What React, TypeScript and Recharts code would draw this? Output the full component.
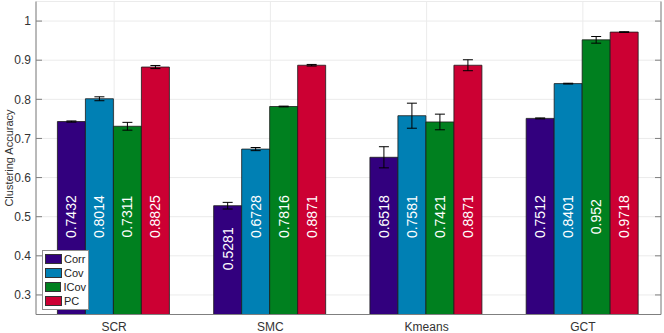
import React from 'react';
import { BarChart, Bar, XAxis, YAxis, CartesianGrid, ErrorBar, LabelList, Legend } from 'recharts';

const categories = ['SCR', 'SMC', 'Kmeans', 'GCT'];
const corr = [0.7432, 0.5281, 0.6518, 0.7512];
const cov = [0.8014, 0.6728, 0.7581, 0.8401];
const icov = [0.7311, 0.7816, 0.7421, 0.952];
const pc = [0.8825, 0.8871, 0.8871, 0.9718];
const corrErr = [0.0015, 0.0085, 0.027, 0.0012];
const covErr = [0.005, 0.004, 0.032, 0.001];
const icovErr = [0.01, 0.001, 0.02, 0.0085];
const pcErr = [0.004, 0.002, 0.014, 0.001];
const yTicks = [0.3, 0.4, 0.5, 0.6, 0.7, 0.8, 0.9, 1];
const seriesNames = ['Corr', 'Cov', 'ICov', 'PC'];
const seriesColors = ['#32007e', '#0080b4', '#00801f', '#cc0033'];

const data = categories.map((name, i) => ({
  name,
  Corr: corr[i], Cov: cov[i], ICov: icov[i], PC: pc[i],
  CorrErr: corrErr[i], CovErr: covErr[i], ICovErr: icovErr[i], PCErr: pcErr[i],
}));

const FONT = '"Liberation Sans", Arial, Helvetica, sans-serif';
const AXIS = '#7f7f7f';
const TXT = '#333333';
const DMIN = 0.25;

const ValueLabel = (props: any) => {
  const { x, y, width, height, value } = props;
  const v = Number(value);
  const ppu = height / (v - DMIN);
  const center = Math.min(0.5, v - 0.11);
  const cx = x + width / 2;
  const cy = y + (v - center) * ppu;
  return (
    <text
      x={cx}
      y={cy}
      transform={`rotate(-90, ${cx}, ${cy})`}
      textAnchor="middle"
      dominantBaseline="central"
      fill="#ffffff"
      fontSize={14}
      fontFamily={FONT}
    >
      {v.toString()}
    </text>
  );
};

const LegendBox = () => (
  <div
    style={{
      border: '1px solid #8f8f8f',
      background: '#fff',
      padding: '1px 2px 1px 2px',
      fontFamily: FONT,
      fontSize: 11,
      color: '#222',
      lineHeight: '14px',
    }}
  >
    {seriesNames.map((n, i) => (
      <div key={n} style={{ display: 'flex', alignItems: 'center', height: 14 }}>
        <div
          style={{
            width: 17,
            height: 10,
            background: seriesColors[i],
            border: '1px solid #333',
            boxSizing: 'border-box',
            marginRight: 2,
          }}
        />
        <span>{n}</span>
      </div>
    ))}
  </div>
);

const YLabel = (props: any) => {
  const vb = props.viewBox || { x: 0, y: 0, width: 0, height: 0 };
  const cx = 9;
  const cy = vb.y + vb.height / 2;
  return (
    <text
      x={cx}
      y={cy}
      transform={`rotate(-90, ${cx}, ${cy})`}
      textAnchor="middle"
      dominantBaseline="central"
      fontSize={11}
      fill={TXT}
      fontFamily={FONT}
    >
      Clustering Accuracy
    </text>
  );
};

export default function App() {
  return (
    <div style={{ position: 'absolute', left: 0, top: 0, width: 664, height: 333, background: '#fff' }}>
      <BarChart
        width={664}
        height={333}
        data={data}
        margin={{ top: 1.5, right: 0, bottom: 0, left: 0 }}
        barCategoryGap="13.7%"
        barGap={0}
      >
        <CartesianGrid stroke="#ebebeb" strokeWidth={1} />
        <XAxis
          dataKey="name"
          height={18.5}
          axisLine={{ stroke: AXIS }}
          tickLine={false}
          tickSize={0}
          tickMargin={8.4}
          tick={{ fill: TXT, fontSize: 12, fontFamily: FONT }}
        />
        <XAxis
          xAxisId="top"
          dataKey="name"
          orientation="top"
          height={0}
          axisLine={{ stroke: AXIS }}
          tickLine={{ stroke: AXIS }}
          tickSize={-6}
          tickFormatter={() => ''}
        />
        <YAxis
          width={36}
          domain={[DMIN, 1.05]}
          ticks={yTicks}
          allowDataOverflow
          axisLine={{ stroke: AXIS }}
          tickLine={{ stroke: AXIS }}
          tickSize={-6}
          tickMargin={11}
          tick={{ fill: TXT, fontSize: 12, fontFamily: FONT }}
          tickFormatter={(v: number) => (v === 1 ? '1' : v.toFixed(1))}
          label={<YLabel />}
        />
        <YAxis
          yAxisId="r"
          orientation="right"
          width={3}
          domain={[DMIN, 1.05]}
          ticks={yTicks}
          allowDataOverflow
          axisLine={{ stroke: AXIS }}
          tickLine={{ stroke: AXIS }}
          tickSize={-6}
          tickFormatter={() => ''}
        />
        <Legend
          layout="vertical"
          align="center"
          verticalAlign="middle"
          content={<LegendBox />}
          wrapperStyle={{ left: 42, top: 250, width: 47, height: 57, right: 'auto', bottom: 'auto' }}
        />
        {seriesNames.map((n, i) => (
          <Bar
            key={n}
            dataKey={n}
            fill={seriesColors[i]}
            stroke="#1a1a1a"
            strokeWidth={0.8}
            isAnimationActive={false}
          >
            <ErrorBar dataKey={`${n}Err`} width={5} stroke="#000" strokeWidth={1} direction="y" />
            <LabelList dataKey={n} content={<ValueLabel />} />
          </Bar>
        ))}
      </BarChart>
    </div>
  );
}
